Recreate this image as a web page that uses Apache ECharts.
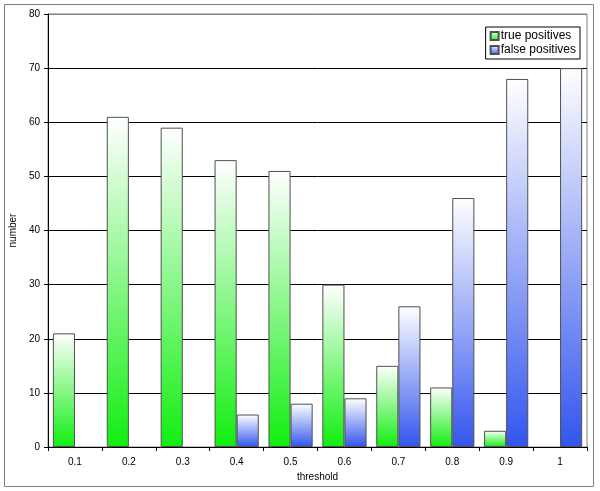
<!DOCTYPE html>
<html><head><meta charset="utf-8">
<script src="https://cdn.jsdelivr.net/npm/echarts@6/dist/echarts.min.js"></script>
<style>html,body{margin:0;padding:0;background:#fff}#c{width:600px;height:491px}</style>
</head><body><div id="c"></div>
<script>
const categories = ['0.1','0.2','0.3','0.4','0.5','0.6','0.7','0.8','0.9','1'];
const truePositives = [21, 61, 59, 53, 51, 30, 15, 11, 3, 0];
const falsePositives = [0, 0, 0, 6, 8, 9, 26, 46, 68, 70];
const seriesNames = ['true positives', 'false positives'];

function grad(c){
  return {type:'linear',x:0,y:0,x2:0,y2:1,colorStops:[{offset:0,color:'#ffffff'},{offset:1,color:c}]};
}
function hideZero(arr){ return arr.map(v => v === 0 ? '-' : v); }
const chart = echarts.init(document.getElementById('c'), null, {renderer:'canvas'});
const font = 'Liberation Sans, Arial, sans-serif';
chart.setOption({
  animation:false,
  backgroundColor:'#fff',
  graphic:[{type:'rect',shape:{x:4.5,y:4.5,width:589,height:482},style:{fill:'none',stroke:'#808080',lineWidth:1},z:-1}],
  grid:{left:47,right:13,top:14,bottom:44,show:true,borderColor:'#808080',borderWidth:1,backgroundColor:'#fff'},
  legend:{
    data:seriesNames, orient:'vertical', right:20, top:27,
    icon:'rect', itemWidth:8, itemHeight:8, itemGap:2,
    padding:[3,4,3,4], borderColor:'#000', borderWidth:1, backgroundColor:'#fff',
    textStyle:{fontFamily:font,fontSize:12,color:'#000',padding:[0,0,0,-3]}
  },
  xAxis:{
    type:'category', data:categories, name:'threshold', nameLocation:'middle', nameGap:24,
    nameTextStyle:{fontFamily:font,fontSize:10,color:'#000'},
    axisLine:{lineStyle:{color:'#000'}},
    axisTick:{show:true,length:4,lineStyle:{color:'#000'}},
    axisLabel:{fontFamily:font,fontSize:10,color:'#000',margin:10},
    splitLine:{show:false}
  },
  yAxis:{
    type:'value', min:0, max:80, interval:10, name:'number', nameLocation:'middle', nameGap:25,
    nameTextStyle:{fontFamily:font,fontSize:10,color:'#000'},
    axisLine:{show:true,lineStyle:{color:'#000'}},
    axisTick:{show:true,length:4,lineStyle:{color:'#000'}},
    axisLabel:{fontFamily:font,fontSize:10,color:'#000',margin:8},
    splitLine:{show:true,lineStyle:{color:['#000','#000','#000','#000','#000','#000','#000','#000','#808080'],width:1}}
  },
  series:[
    {name:seriesNames[0], type:'bar', data:hideZero(truePositives), barGap:'0%', barCategoryGap:'18%',
     itemStyle:{color:grad('#11ee11'),borderColor:'#505050',borderWidth:1}},
    {name:seriesNames[1], type:'bar', data:hideZero(falsePositives),
     itemStyle:{color:grad('#3355ee'),borderColor:'#505050',borderWidth:1}}
  ]
});
</script></body></html>
